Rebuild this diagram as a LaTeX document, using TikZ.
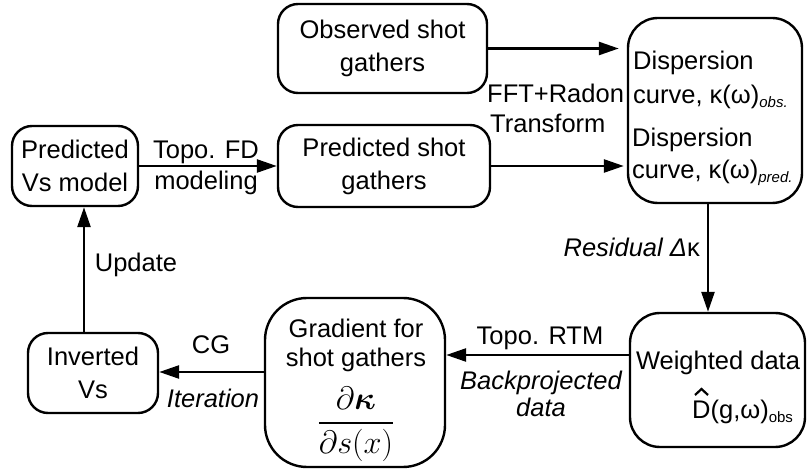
\documentclass[tikz,border=0pt]{standalone}
\usepackage{amsmath,amsbsy}
\usepackage{graphicx}
\usepackage{fontspec}
\setmainfont{Liberation Sans}
\usetikzlibrary{arrows.meta}

% small subscript set after a symbol
\newcommand{\lowsub}[1]{\raisebox{-4pt}{\fontsize{15}{15}\selectfont #1}}

\begin{document}
\begin{tikzpicture}[x=1pt,y=-1pt,
  box/.style={draw,line width=2.4pt,rounded corners=#1,inner sep=0pt},
  box/.default=20pt,
  txt/.style={font=\fontsize{25.5}{33}\selectfont,align=center,inner sep=0pt},
  lbl/.style={font=\fontsize{25.5}{33}\selectfont,inner sep=0pt},
  flow/.style={line width=2.6pt,-{Triangle[length=20pt,width=13pt]}}
]
\useasboundingbox (0,0) rectangle (807,473);

% ---- boxes ----
\node[box,txt,minimum width=209pt,minimum height=89pt] (obs) at (382.5,48.5) {Observed shot\\gathers};
\node[box,txt,minimum width=212pt,minimum height=82pt] (psg) at (384,166) {Predicted shot\\gathers};
\node[box,txt,minimum width=126pt,minimum height=80pt] (pvs) at (75,166) {Predicted\\Vs model};
\node[box=30pt,minimum width=174pt,minimum height=185pt] (disp) at (715,110.5) {};
\node[box=30pt,minimum width=175pt,minimum height=134pt] (wd) at (717.5,380) {};
\node[box=42pt,minimum width=180pt,minimum height=169pt] (grad) at (355,382.5) {};
\node[box,txt,minimum width=130pt,minimum height=80pt] (inv) at (93,373) {Inverted\\Vs};

% ---- text inside the larger boxes ----
\node[lbl,anchor=west] (d1) at (633,63) {Dispersion};
\node[lbl,anchor=west] (d2) at (633,97) {curve, κ(ω)\lowsub{\itshape obs.}};
\node[lbl,anchor=west] (d3) at (632,140) {Dispersion};
\node[lbl,anchor=west] (d4) at (632,173) {curve, κ(ω)\lowsub{\itshape pred.}};

\node[lbl] (w1) at (718,363) {Weighted data};
\node[lbl,anchor=base west] (w2) at (692,419) {D(g,ω)\lowsub{obs}};
% circumflex over the D
\draw[line width=2.2pt,line join=miter] ([shift={(3,-24)}]w2.base west) -- ([shift={(9.5,-30)}]w2.base west) -- ([shift={(16,-24)}]w2.base west);

\node[lbl] (g1) at (356,328) {Gradient for};
\node[lbl] (g2) at (356,360) {shot gathers};
\node[lbl] (g3) at (356,424) {\scalebox{1.3}{$\displaystyle\frac{\partial\boldsymbol{\kappa}}{\partial s(x)}$}};

% ---- connectors ----
\coordinate (upx) at (84,0);
\coordinate (dnx) at (708,0);
\coordinate (rtmy) at (0,355);
\coordinate (cgy) at (0,372);

\draw[flow] (inv.north -| upx) -- (pvs.south -| upx);
\draw[flow] (pvs.east) -- (psg.west);
\draw[flow,shorten >=8pt] (obs.east) -- (obs.east -| disp.west);
\draw[flow,shorten >=3pt] (psg.east) -- (psg.east -| disp.west);
\draw[flow] (disp.south -| dnx) -- (wd.north -| dnx);
\draw[flow] (wd.west |- rtmy) -- (grad.east |- rtmy);
\draw[flow] (grad.west |- cgy) -- (inv.east |- cgy);

% ---- connector labels ----
\node[lbl] (l1) at (206,152) {Topo. FD};
\node[lbl] (l2) at (206,183) {modeling};
\node[lbl,anchor=west] (l3) at (487,93) {FFT+Radon};
\node[lbl,anchor=west] (l4) at (490,123) {Transform};
\node[lbl,anchor=east] (l5) at (700,247) {\itshape Residual Δ\upshape κ};
\node[lbl] (l6) at (540,338) {Topo. RTM};
\node[lbl] (l7) at (541,383) {\itshape Backprojected};
\node[lbl] (l8) at (541,407) {\itshape data};
\node[lbl] (l9) at (211,345) {CG};
\node[lbl] (l10) at (213,398) {\itshape Iteration};
\node[lbl] (l11) at (136,265) {Update};
\end{tikzpicture}
\end{document}
